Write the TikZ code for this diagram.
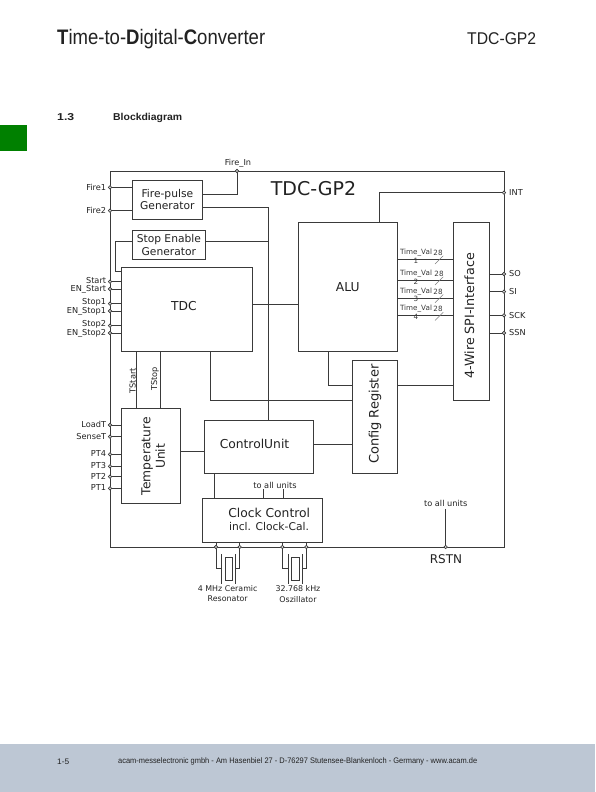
\documentclass[tikz,border=0pt]{standalone}
\usepackage{graphicx}
\usepackage{fontspec}
\setmainfont{DejaVu Sans}
\newfontfamily\hdr{Liberation Sans}
\newcommand\fsz[2]{\fontsize{#1}{#2}\selectfont}
\definecolor{ink}{HTML}{3A3A3A}
\definecolor{txt}{HTML}{222222}
\definecolor{band}{HTML}{BDC7D4}
\definecolor{tab}{HTML}{008000}
\tikzset{
  wire/.style={draw=ink,line width=0.95pt,line cap=rect},
  blk/.style={draw=ink,line width=1pt,fill=white,inner sep=0pt,align=center,text=txt,font=\fsz{10.7}{12.8}},
  pinc/.style={circle,draw=ink,fill=white,line width=0.6pt,minimum size=3.2pt,inner sep=0pt},
  lab/.style={inner sep=0pt,text=txt,font=\fsz{8.2}{10}},
  big/.style={inner sep=0pt,text=txt,font=\fsz{12.3}{14.5}},
  tiny/.style={inner sep=0pt,text=ink,font=\fsz{7.2}{8}},
  head/.style={inner sep=0pt,text=txt,font=\hdr},
}
\begin{document}
\begin{tikzpicture}[x=1pt,y=-1pt]
\useasboundingbox (0,0) rectangle (595,792);
\fill[white] (0,0) rectangle (595,792);
\fill[band] (0,744) rectangle (595,792);
\fill[tab] (0,125) rectangle (27,151);
% page texts
\node[head,anchor=base west] (title) at (57,45) {\resizebox{208pt}{\height}{\fsz{21}{24}\textbf{T}ime-to-\textbf{D}igital-\textbf{C}onverter}};
\node[head,anchor=base west] (part) at (467,45) {\resizebox{69pt}{\height}{\fsz{17}{20}TDC-GP2}};
\node[head,anchor=base west] (secn) at (57,120) {\resizebox{17pt}{\height}{\fsz{10}{12}\textbf{1.3}}};
\node[head,anchor=base west] (sect) at (113,120) {\resizebox{69pt}{\height}{\fsz{10}{12}\textbf{Blockdiagram}}};
\node[head,anchor=base west] (pageno) at (57,764) {\resizebox{12pt}{\height}{\fsz{8}{10}1-5}};
\node[head,anchor=base west] (foot) at (118,763) {\resizebox{359pt}{\height}{\fsz{8}{10}acam-messelectronic gmbh - Am Hasenbiel 27 - D-76297 Stutensee-Blankenloch - Germany - www.acam.de}};
% outer chip
\node[draw=ink,line width=1pt,minimum width=394pt,minimum height=376pt,inner sep=0pt] (chip) at (307,359) {};
\node[inner sep=0pt,text=txt,font=\fsz{19}{22}] (chipname) at (313.5,188.5) {TDC-GP2};
% pins
\node[pinc] (FireIn) at (237,171) {};
\node[lab] (lFireIn) at (238,163) {Fire\_In};
\node[pinc] (INT) at (504,192.7) {};
\node[pinc] (RSTN) at (445.7,547) {};
\node[pinc] (X1) at (216,547) {};
\node[pinc] (X2) at (239.7,547) {};
\node[pinc] (X3) at (282.3,547) {};
\node[pinc] (X4) at (306.3,547) {};
% block outlines
\path node[minimum width=70.7pt,minimum height=39pt,inner sep=0pt] (fire) at (167.35,199.5) {}
      node[minimum width=73.7pt,minimum height=29.7pt,inner sep=0pt] (stopen) at (168.85,244.85) {}
      node[minimum width=130.6pt,minimum height=84.3pt,inner sep=0pt] (tdc) at (187,309.15) {}
      node[minimum width=99pt,minimum height=129pt,inner sep=0pt] (alu) at (347.8,286.8) {}
      node[minimum width=36.3pt,minimum height=177.7pt,inner sep=0pt] (spi) at (471.15,311.15) {}
      node[minimum width=44.6pt,minimum height=113.3pt,inner sep=0pt] (cfg) at (375,416.65) {}
      node[minimum width=59pt,minimum height=95pt,inner sep=0pt] (temp) at (151.2,455.8) {}
      node[minimum width=109pt,minimum height=53.4pt,inner sep=0pt] (ctrl) at (258.5,447) {}
      node[minimum width=119.6pt,minimum height=44pt,inner sep=0pt] (clock) at (262.5,520.3) {};
% wires
\draw[wire] (FireIn) |- (fire.east |- 0,194);
\draw[wire] (fire.east |- 0,207.7) -| (268.7,0 |- ctrl.north);
\draw[wire] (stopen.east |- 0,241.7) -- (268.7,241.7);
\draw[wire] (stopen.west |- 0,241.7) -| (115.3,271.7) -- (tdc.west |- 0,271.7);
\draw[wire] (tdc.east |- 0,304) -- (alu.west |- 0,304);
\draw[wire] (136.3,0 |- tdc.south) -- (136.3,0 |- temp.north);
\draw[wire] (160,0 |- tdc.south) -- (160,0 |- temp.north);
\draw[wire] (210,0 |- tdc.south) |- (cfg.west |- 0,400);
\draw[wire] (328,0 |- alu.south) |- (cfg.west |- 0,385);
\draw[wire] (cfg.east |- 0,385) -- (spi.west |- 0,385);
\draw[wire] (ctrl.east |- 0,444.3) -- (cfg.west |- 0,444.3);
\draw[wire] (temp.east |- 0,451.3) -- (ctrl.west |- 0,451.3);
\draw[wire] (214.3,0 |- ctrl.south) -- (214.3,0 |- clock.north);
\draw[wire] (263.3,489) -- (263.3,0 |- clock.north);
\draw[wire] (283.3,489) -- (283.3,0 |- clock.north);
\draw[wire] (379.3,0 |- alu.north) |- (INT);
\draw[wire] (RSTN) -- (445.7,509);
\draw[wire] (X1 |- clock.south) -- (X1);
\draw[wire] (X2 |- clock.south) -- (X2);
\draw[wire] (X3 |- clock.south) -- (X3);
\draw[wire] (X4 |- clock.south) -- (X4);
% left pins (last field: vertical offset of the label)
\foreach \n/\y/\t/\b/\o in {Fire1/187.3/Fire1/fire/-0.3,Fire2/210.7/Fire2/fire/-0.3,Start/281.7/Start/tdc/-1.2,ENStart/289/EN\_Start/tdc/0.3,Stop1/303.7/Stop1/tdc/-1.2,ENStop1/311/EN\_Stop1/tdc/0.3,Stop2/325.7/Stop2/tdc/-1.2,ENStop2/333/EN\_Stop2/tdc/0.3,LoadT/425/LoadT/temp/-0.3,SenseT/436.7/SenseT/temp/-0.3,PT4/454.3/PT4/temp/-0.3,PT3/466.3/PT3/temp/-0.3,PT2/476.7/PT2/temp/-0.3,PT1/488.3/PT1/temp/-0.3}{
  \node[pinc] (\n) at (110,\y) {};
  \draw[wire] (\n) -- (\n -| \b.west);
  \node[pinc] at (\n) {};
  \node[lab,anchor=east] (l\n) at (106.3,\y+\o) {\t};
}
% right pins
\foreach \n/\y in {SO/274,SI/291.7,SCK/315.3,SSN/333}{
  \node[pinc] (\n) at (504,\y) {};
  \draw[wire] (\n) -- (\n -| spi.east);
  \node[pinc] at (\n) {};
  \node[lab,anchor=west] (l\n) at (509,\y) {\n};
}
\node[lab,anchor=west] (lINT) at (509,192.7) {INT};
% crystals
\foreach \p/\q/\a/\b in {X1/X2/221/235.3,X3/X4/288.3/302.3}{
  \draw[wire,line width=0.8pt] (\p) |- (\a,568.3);
  \draw[wire,line width=0.8pt] (\q) |- (\b,568.3);
  \draw[draw=ink,line width=0.9pt] (\a,554) -- (\a,584);
  \draw[draw=ink,line width=0.9pt] (\b,554) -- (\b,584);
}
\draw[draw=ink,line width=0.9pt] (225,557) rectangle (232.7,580.7);
\draw[draw=ink,line width=0.9pt] (291,557) rectangle (299,580.7);
% blocks on top
\node[blk,minimum width=70.7pt,minimum height=39pt] at (fire) {Fire-pulse\\Generator};
\node[blk,minimum width=73.7pt,minimum height=29.7pt] at (stopen) {Stop Enable\\Generator};
\node[blk,minimum width=130.6pt,minimum height=84.3pt] at (tdc) {};
\node[big] (ttdc) at (184,306) {TDC};
\node[blk,minimum width=99pt,minimum height=129pt,font=\fsz{12.3}{14.5}] at (alu) {ALU};
\node[blk,minimum width=36.3pt,minimum height=177.7pt] at (spi) {};
\node[big,rotate=90,font=\fsz{12.7}{15}] (tspi) at (469.3,316) {4-Wire SPI-Interface};
\node[blk,minimum width=44.6pt,minimum height=113.3pt] at (cfg) {};
\node[big,rotate=90,font=\fsz{13}{15}] (tcfg) at (375,414.3) {Config Register};
\node[blk,minimum width=59pt,minimum height=95pt] at (temp) {};
\node[big,rotate=90,align=center] (ttemp) at (153.3,456.3) {Temperature\\Unit};
\node[blk,minimum width=109pt,minimum height=53.4pt] at (ctrl) {};
\node[big] (tctrl) at (254.5,443.5) {ControlUnit};
\node[blk,minimum width=119.6pt,minimum height=44pt] at (clock) {};
\node[big] (tclock) at (269.2,513.3) {Clock Control};
\node[inner sep=0pt,text=txt,font=\fsz{10.7}{13}] (tclock2) at (269,527) {incl. Clock-Cal.};
% pins over the lines
\foreach \n in {FireIn,INT,RSTN,X1,X2,X3,X4}{\node[pinc] at (\n) {};}
% small labels
\node[lab,rotate=90,anchor=west] (tstart) at (132.7,393.5) {TStart};
\node[lab,rotate=90,anchor=west] (tstop) at (155,391) {TStop};
\node[lab] (all1) at (275,485) {to all units};
\node[lab] (all2) at (445.7,503) {to all units};
\node[inner sep=0pt,text=txt,font=\fsz{12}{14}] (lRSTN) at (446,559) {RSTN};
\node[lab,align=center,font=\fsz{7.9}{10.2}] (res) at (227.7,593.2) {4 MHz Ceramic\\Resonator};
\node[lab,align=center,font=\fsz{7.9}{10.2}] (osc) at (298,594) {32.768 kHz\\Oszillator};
% Time_Val buses
\foreach \i/\y/\sx/\sy in {1/259.3/438/253,2/280.3/439/274,3/298/438/292,4/315.7/438/309}{
  \draw[wire] (alu.east |- 0,\y) -- (spi.west |- 0,\y);
  \draw[draw=gray,line width=0.5pt] (435,\y+4.7) -- (443.3,\y-3.5);
  \node[tiny] (tv\i) at (416,\y-6.7) {Time\_Val};
  \node[tiny] (tvn\i) at (416,\y+1.2) {\i};
  \node[tiny] (tvw\i) at (\sx,\sy) {28};
}
\end{tikzpicture}
\end{document}
